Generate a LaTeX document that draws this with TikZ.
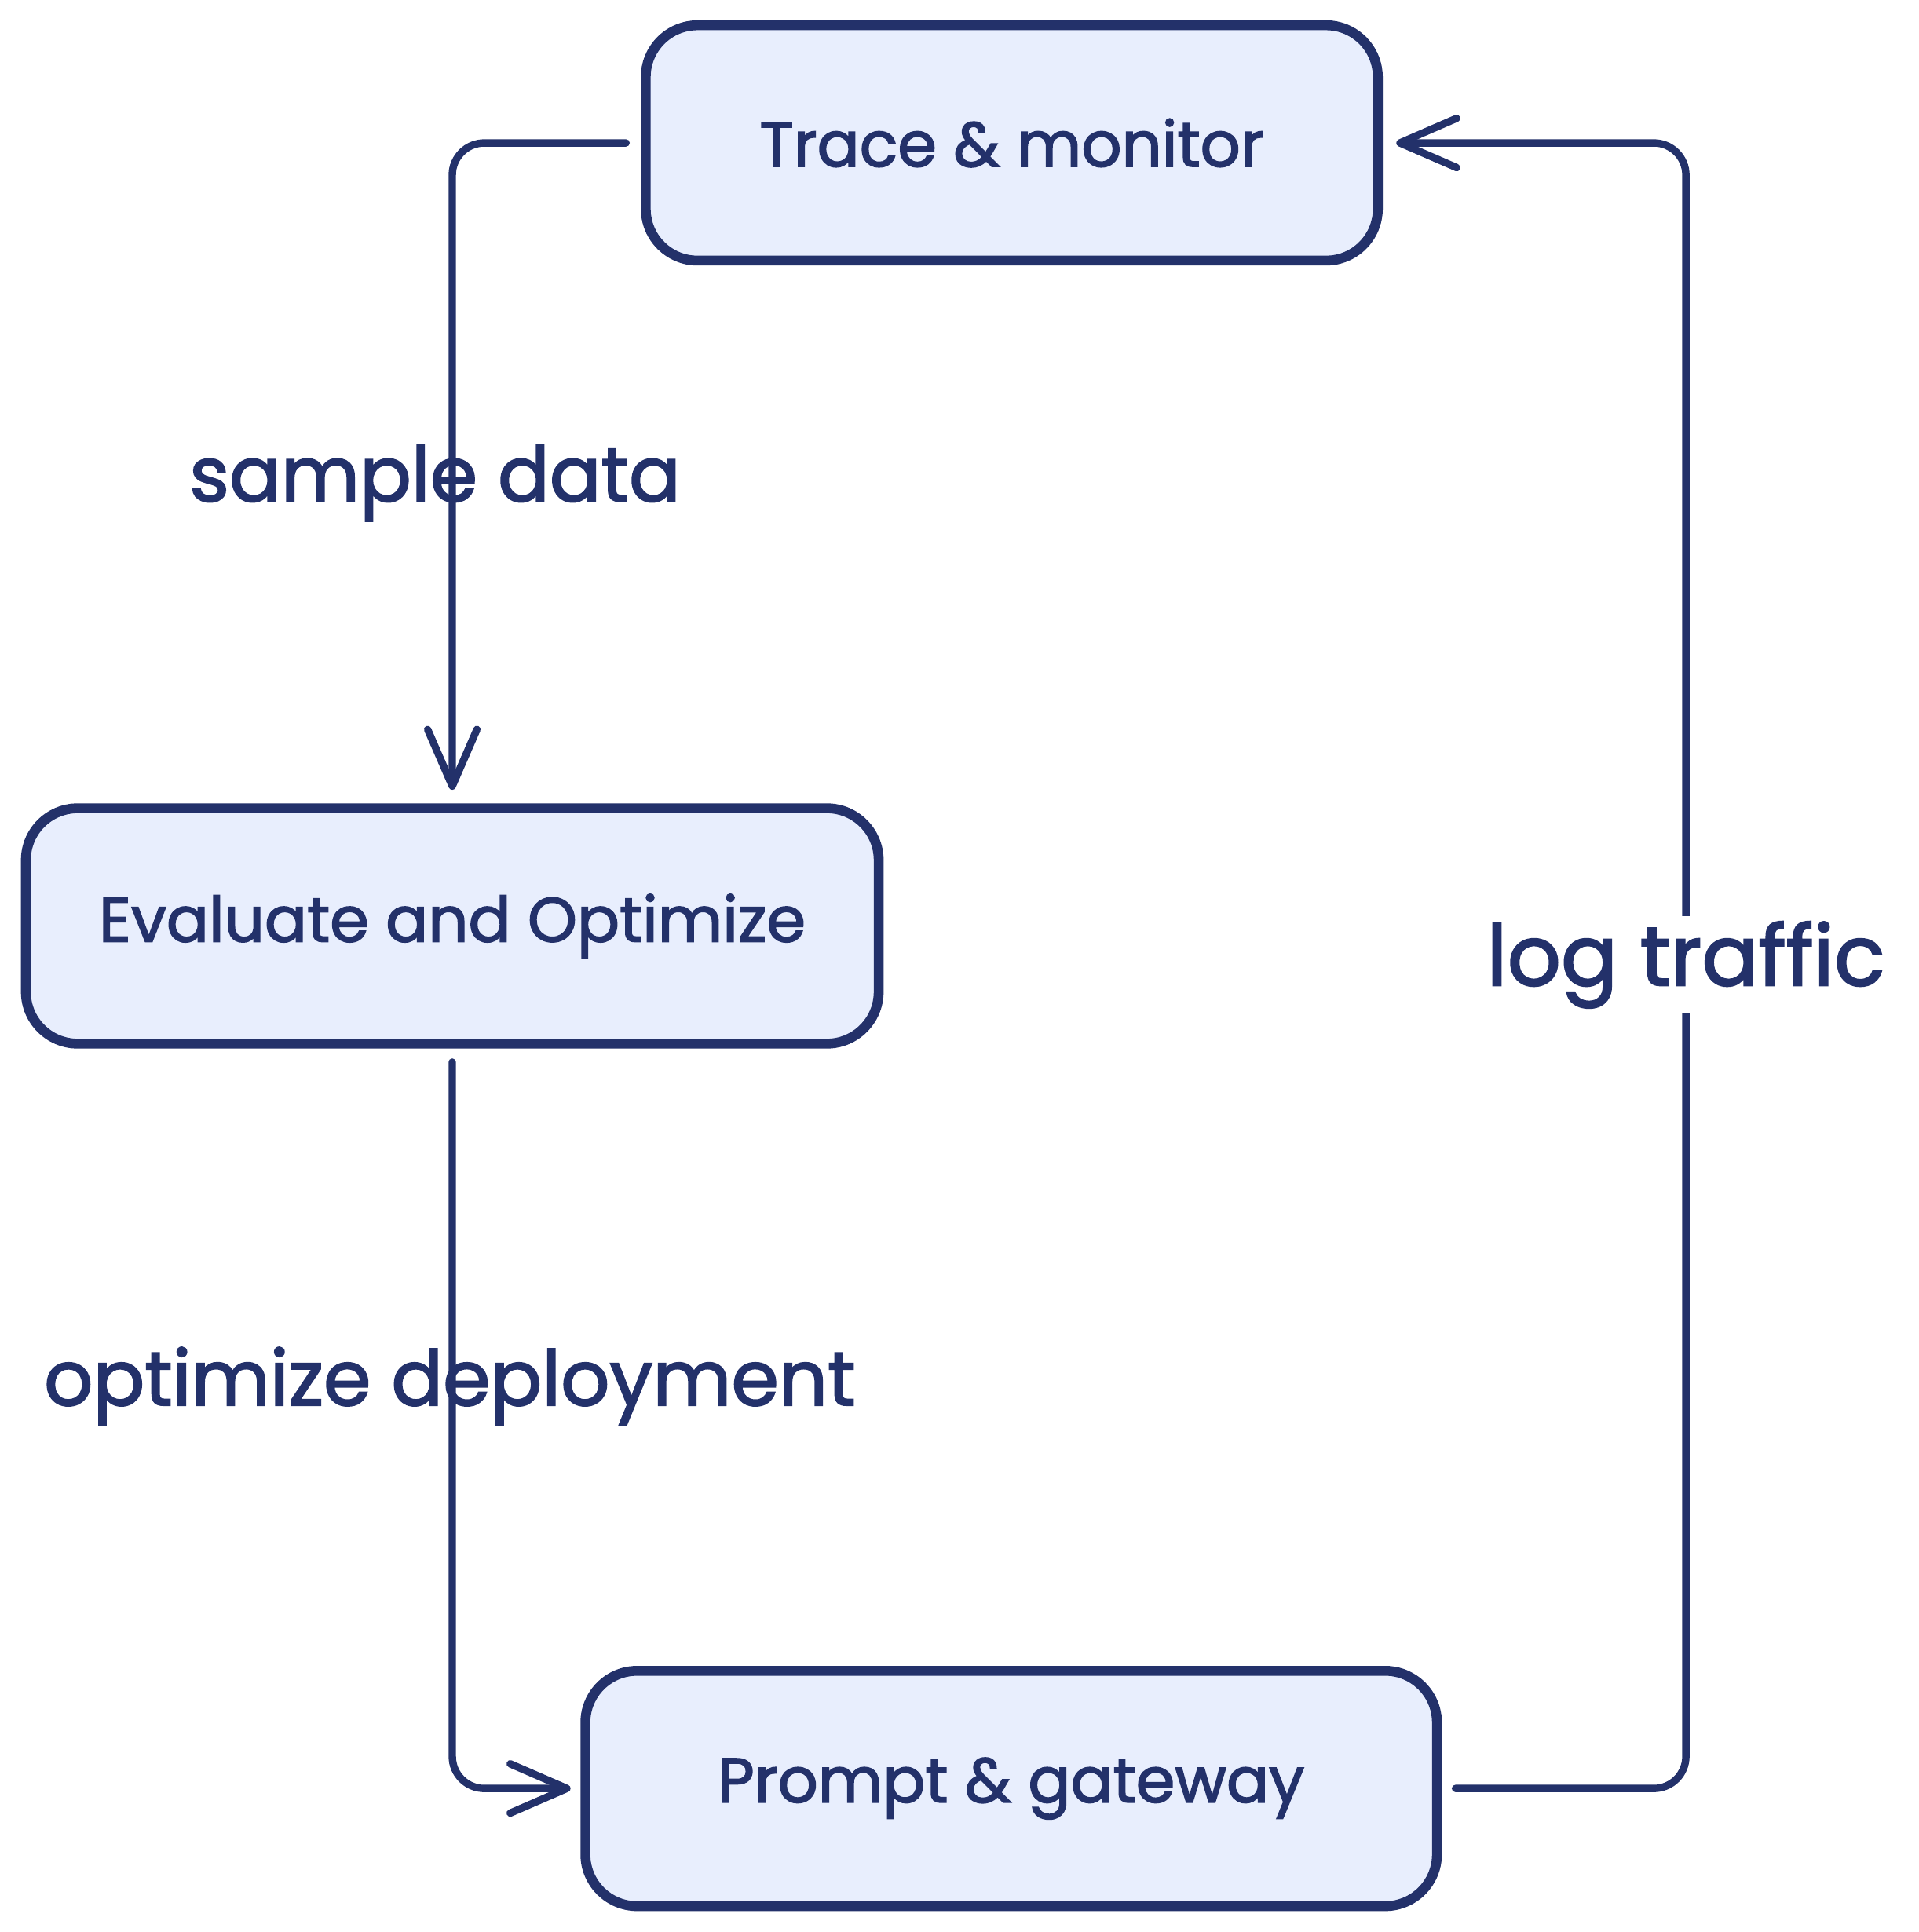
\documentclass[tikz,border=0pt]{standalone}
\usepackage{fontspec}
\setmainfont{Poppins}
\newfontfamily\lblfont{Poppins}[FakeBold=2]
\usetikzlibrary{arrows.meta}
\definecolor{navy}{HTML}{23316A}
\definecolor{boxfill}{HTML}{E8EEFD}
\begin{document}
\begin{tikzpicture}[x=1pt,y=-1pt,
  box/.style={draw=navy, fill=boxfill, line width=8pt, rounded corners=42pt,
    minimum width=#1, minimum height=191pt, inner sep=0pt, text=navy,
    font=\lblfont\fontsize{51}{61}\selectfont},
  conn/.style={draw=navy, line width=6pt, line cap=round, line join=round,
    rounded corners=26pt, -{Straight Barb[length=46pt,width=40pt,round]}},
  elabel/.style={text=navy, font=\lblfont\fontsize{62}{74}\selectfont, inner sep=3pt}]
\useasboundingbox (0,0) rectangle (1557,1568);
\node[box=594pt] (top) at (821,116) {Trace \& monitor};
\node[box=692pt] (mid) at (367,751.5) {Evaluate and Optimize};
\node[box=691pt] (bot) at (820.5,1451.5) {Prompt \& gateway};
\coordinate (ltc) at (1368,783);
\draw[conn, shorten <=12pt, shorten >=11pt] (top.west) -| (mid.north);
\draw[conn, shorten <=11pt, shorten >=8pt] (mid.south) |- (bot.west);
\draw[conn, shorten <=11pt, shorten >=11pt] (bot.east) -- (bot.east -| ltc) |- (top.east);
\node[elabel] (sd) at (353,392) {sample data};
\node[elabel] (od) at (365,1125) {optimize deployment};
\node[elabel, fill=white, inner xsep=0pt, inner ysep=4pt, font=\lblfont\fontsize{68}{80}\selectfont] (lt) at (ltc) {log traffic};
\end{tikzpicture}
\end{document}
